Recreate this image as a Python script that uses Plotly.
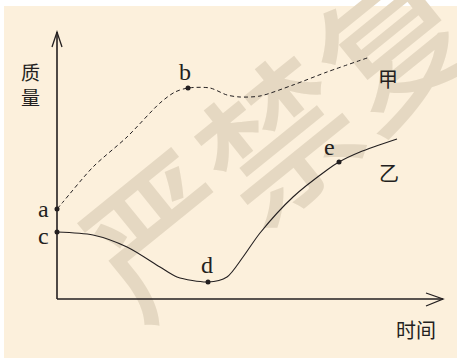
import plotly.graph_objects as go

# curve 甲 (dashed) and 乙 (solid), time vs mass in arbitrary units
jia_t = [0, 6, 36, 70, 103, 118, 131, 153, 170, 183, 203, 236, 270, 313]
jia_m = [90, 97, 132, 162, 196, 207, 211, 211, 204, 202, 203, 214, 227, 242]

yi_t = [0, 36, 70, 103, 120, 151, 170, 186, 203, 236, 270, 282, 303, 340]
yi_m = [67, 64, 52, 32, 22, 17, 22, 42, 66, 102, 129, 137, 147, 160]

pt_names = ["a", "b", "c", "d", "e"]
pt_t = [0, 131, 0, 151, 282]
pt_m = [90, 211, 67, 17, 137]
# label offsets of the letters from their points
lab_dt = [-14, -3, -14, -1, -10]
lab_dm = [0, 16, -4, 17, 15]

ink = "#231f20"
peach = "#fcf0dc"

fig = go.Figure()
fig.add_trace(go.Scatter(x=jia_t, y=jia_m, mode="lines",
                         line=dict(color=ink, width=1, dash="4px,3px", shape="spline", smoothing=0.8),
                         hoverinfo="skip"))
fig.add_trace(go.Scatter(x=yi_t, y=yi_m, mode="lines",
                         line=dict(color=ink, width=1.1, shape="spline", smoothing=0.8),
                         hoverinfo="skip"))
fig.add_trace(go.Scatter(x=pt_t, y=pt_m, mode="markers",
                         marker=dict(color=ink, size=5), hoverinfo="skip"))

# background panel and watermark, under the curves
fig.add_shape(type="rect", x0=-53, x1=400, y0=-59, y1=293, xref="x", yref="y",
              fillcolor=peach, line_width=0, layer="below")
fig.add_shape(type="line", x0=90, y0=35, x1=490, y1=355, xref="x", yref="y",
              line=dict(width=0, color="rgba(0,0,0,0)"), layer="below",
              label=dict(text="严禁复制", textangle=-39, textposition="middle",
                         yanchor="middle",
                         font=dict(family="Noto Sans CJK SC", size=150, color="#e5d8c2", weight=500)))

# axes with open arrowheads
fig.add_shape(type="line", x0=0, y0=0, x1=0, y1=267, line=dict(color=ink, width=1.6))
fig.add_shape(type="line", x0=0, y0=0, x1=386, y1=0, line=dict(color=ink, width=1.6))
fig.add_shape(type="path", path="M -5 252 L 0 267 L 5 252", line=dict(color=ink, width=1.3))
fig.add_shape(type="path", path="M 369 6 L 386 0 L 369 -7", line=dict(color=ink, width=1.3))

for n, t, m, dt, dm in zip(pt_names, pt_t, pt_m, lab_dt, lab_dm):
    fig.add_annotation(x=t + dt, y=m + dm, text=n, showarrow=False,
                       font=dict(family="Liberation Serif", size=24, color=ink))

cjk = dict(family="Noto Sans CJK SC", size=20, color=ink)
fig.add_annotation(x=-27, y=215, text="质<br>量", showarrow=False,
                   font=dict(family="Noto Sans CJK SC", size=19, color=ink))
fig.add_annotation(x=359, y=-30, text="时间", showarrow=False, font=cjk)
fig.add_annotation(x=331, y=221, text="甲", showarrow=False, font=cjk)
fig.add_annotation(x=332, y=127, text="乙", showarrow=False, font=cjk)

fig.update_layout(width=457, height=359, margin=dict(l=0, r=0, t=0, b=0),
                  paper_bgcolor="white", plot_bgcolor="rgba(0,0,0,0)",
                  showlegend=False)
fig.update_xaxes(range=[-57, 400], visible=False, fixedrange=True)
fig.update_yaxes(range=[-60, 299], visible=False, fixedrange=True)

fig.write_html("out.html", config={"displayModeBar": False},
               post_script="document.body.style.margin='0';")
